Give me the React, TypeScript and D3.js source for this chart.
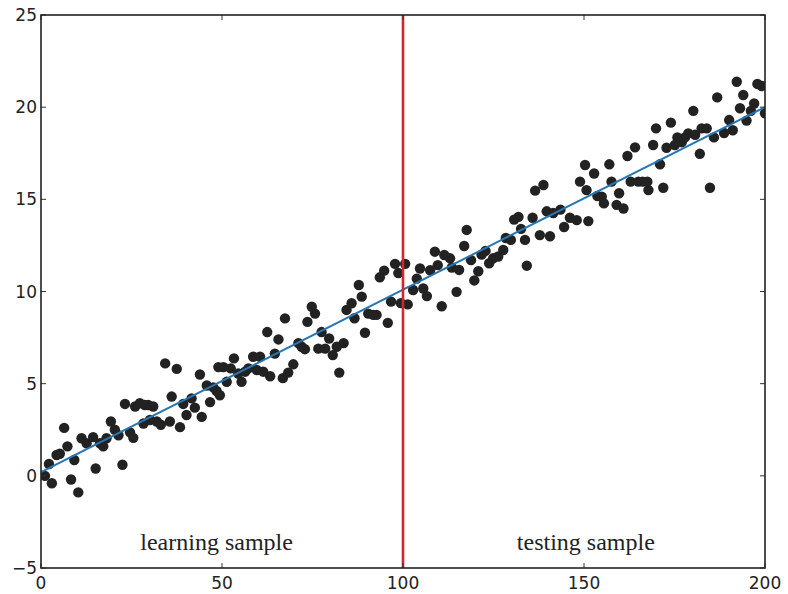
import React from "react";
import * as d3 from "d3";

const xTicks = [0, 50, 100, 150, 200];
const yTicks = [-5, 0, 5, 10, 15, 20, 25];

const pointsX = [
  1.1, 2.2, 3.0, 4.3, 5.2, 6.4, 7.3, 8.3, 9.2, 10.3, 11.2, 12.6, 14.4, 15.1, 16.3, 17.2, 18.1, 19.3, 20.4, 21.4,
  22.5, 23.2, 24.6, 25.5, 26.0, 27.3, 28.3, 28.7, 29.6, 30.1, 31.0, 32.0, 33.1, 34.3, 35.6, 36.1, 37.5, 38.4, 39.3, 40.2,
  41.6, 42.5, 43.9, 44.4, 45.8, 46.7, 47.6, 48.5, 49.0, 49.4, 50.4, 51.3, 52.4, 53.3, 54.5, 55.4, 56.4, 57.3, 58.6, 59.6,
  60.5, 61.4, 62.5, 63.3, 64.6, 65.6, 66.8, 67.4, 68.3, 69.7, 71.1, 72.0, 72.9, 73.6, 74.8, 75.7, 76.6, 77.5, 78.5, 79.6,
  80.6, 81.7, 82.4, 83.6, 84.4, 85.8, 86.6, 87.8, 88.6, 89.5, 90.4, 91.8, 92.7, 93.6, 94.8, 95.8, 96.7, 97.8, 98.7, 99.4,
  100.6, 101.3, 102.8, 103.8, 104.7, 105.6, 106.6, 107.5, 108.8, 109.6, 110.7, 111.4, 113.0, 113.5, 114.8, 115.5, 116.9, 117.6, 118.8, 119.7,
  120.8, 121.7, 122.8, 123.8, 124.9, 126.3, 127.7, 128.4, 129.8, 130.7, 131.9, 132.6, 133.7, 134.2, 135.8, 136.5, 137.8, 138.8, 139.7, 140.6,
  141.5, 143.5, 144.5, 146.1, 148.0, 148.9, 150.3, 150.7, 151.2, 152.8, 153.7, 154.9, 155.5, 157.0, 157.6, 159.0, 159.7, 160.9, 162.0, 162.9,
  164.1, 165.0, 166.2, 167.5, 167.8, 169.1, 169.9, 171.0, 171.9, 172.8, 174.0, 175.1, 175.8, 177.0, 177.9, 178.8, 180.2, 180.7, 182.0, 182.5,
  183.9, 184.8, 185.9, 186.8, 188.7, 190.1, 191.1, 192.2, 193.1, 194.0, 194.9, 196.1, 197.0, 197.9, 199.1, 200.0
];

const pointsY = [
  0.0, 0.64, -0.4, 1.13, 1.2, 2.6, 1.6, -0.2, 0.86, -0.9, 2.04, 1.77, 2.1, 0.4, 1.77, 1.6, 2.04, 2.95, 2.5, 2.2,
  0.6, 3.9, 2.36, 2.06, 3.76, 3.94, 2.84, 3.84, 3.84, 3.03, 3.76, 2.95, 2.77, 6.1, 2.95, 4.3, 5.8, 2.64, 3.9, 3.3,
  4.2, 3.7, 5.5, 3.2, 4.9, 4.0, 4.8, 4.6, 5.9, 4.37, 5.9, 5.1, 5.83, 6.37, 5.55, 5.1, 5.65, 5.83, 6.46, 5.74,
  6.46, 5.65, 7.8, 5.4, 6.63, 7.4, 5.3, 8.54, 5.6, 6.05, 7.2, 7.0, 6.87, 8.35, 9.17, 8.8, 6.9, 7.8, 6.9, 7.45,
  6.55, 7.0, 5.6, 7.2, 9.0, 9.36, 8.55, 10.35, 9.72, 7.76, 8.8, 8.73, 8.73, 10.77, 11.13, 8.3, 9.45, 11.5, 11.0, 9.37,
  11.5, 9.3, 10.08, 10.7, 11.25, 10.16, 9.75, 11.15, 12.16, 11.43, 9.2, 11.98, 11.8, 11.3, 9.98, 11.17, 12.47, 13.34, 11.7, 10.6,
  11.1, 12.0, 12.2, 11.53, 11.8, 11.9, 12.25, 12.9, 12.8, 13.9, 14.05, 13.4, 12.8, 11.4, 14.0, 15.47, 13.06, 15.78, 14.35, 13.0,
  14.26, 14.44, 13.5, 14.0, 13.87, 15.96, 16.86, 15.5, 13.82, 16.4, 15.18, 15.14, 14.78, 16.9, 15.96, 14.7, 15.33, 14.5, 17.35, 15.96,
  17.82, 15.96, 15.96, 15.96, 15.5, 17.95, 18.85, 16.9, 15.63, 17.8, 19.16, 17.95, 18.36, 18.1, 18.36, 18.58, 19.8, 18.5, 17.47, 18.85,
  18.85, 15.63, 18.36, 20.53, 18.6, 19.3, 18.75, 21.38, 19.94, 20.66, 19.27, 19.8, 20.2, 21.26, 21.15, 19.67
];

const fitX = [0, 200];
const fitY = [0.2, 20.0];
const splitX = 100;

const labels = ["learning sample", "testing sample"];
const labelX = [48.5, 150.5];
const labelY = -4.0;

const W = 788;
const H = 594;
const L = 41;
const R = 765;
const T = 15;
const B = 568;

export default function App() {
  const x = d3.scaleLinear().domain([0, 200]).range([L, R]);
  const y = d3.scaleLinear().domain([-5, 25]).range([B, T]);
  const line = d3
    .line<number>()
    .x((d, i) => x(fitX[i]))
    .y((d) => y(d));

  const tickLen = 5;
  const tickFont = "'DejaVu Sans', sans-serif";

  return (
    <svg
      width={W}
      height={H}
      style={{ position: "absolute", left: 0, top: 0, background: "#fff" }}
    >
      <rect x={0} y={0} width={W} height={H} fill="#fff" />
      <defs>
        <clipPath id="plotclip">
          <rect x={L} y={T} width={R - L} height={B - T} />
        </clipPath>
      </defs>
      <g clipPath="url(#plotclip)">
        {pointsX.map((px, i) => (
          <circle key={i} cx={x(px)} cy={y(pointsY[i])} r={5.2} fill="#222" />
        ))}
        <path d={line(fitY) || ""} fill="none" stroke="#2776b4" strokeWidth={2} />
      </g>
      <line
        x1={x(splitX)}
        x2={x(splitX)}
        y1={y(25)}
        y2={y(-5)}
        stroke="#cc2a2e"
        strokeWidth={2.6}
      />
      {/* ticks */}
      {xTicks.map((t) => (
        <g key={"xt" + t}>
          <line x1={x(t)} x2={x(t)} y1={B} y2={B - tickLen} stroke="#333" strokeWidth={1} />
          <line x1={x(t)} x2={x(t)} y1={T} y2={T + tickLen} stroke="#333" strokeWidth={1} />
          <text
            x={x(t)}
            y={589}
            textAnchor="middle"
            fontFamily={tickFont}
            fontSize={17}
            fill="#222"
          >
            {t}
          </text>
        </g>
      ))}
      {yTicks.map((t) => (
        <g key={"yt" + t}>
          <line x1={L} x2={L + tickLen} y1={y(t)} y2={y(t)} stroke="#333" strokeWidth={1} />
          <line x1={R} x2={R - tickLen} y1={y(t)} y2={y(t)} stroke="#333" strokeWidth={1} />
          <text
            x={37}
            y={y(t)}
            dy="0.36em"
            textAnchor="end"
            fontFamily={tickFont}
            fontSize={17}
            fill="#222"
          >
            {t < 0 ? "\u2212" + Math.abs(t) : t}
          </text>
        </g>
      ))}
      <rect x={L} y={T} width={R - L} height={B - T} fill="none" stroke="#222" strokeWidth={1.6} />
      {labels.map((s, i) => (
        <text
          key={s}
          x={x(labelX[i])}
          y={y(labelY)}
          textAnchor="middle"
          fontFamily="'Liberation Serif', 'Times New Roman', serif"
          fontSize={24}
          fill="#222"
        >
          {s}
        </text>
      ))}
    </svg>
  );
}
